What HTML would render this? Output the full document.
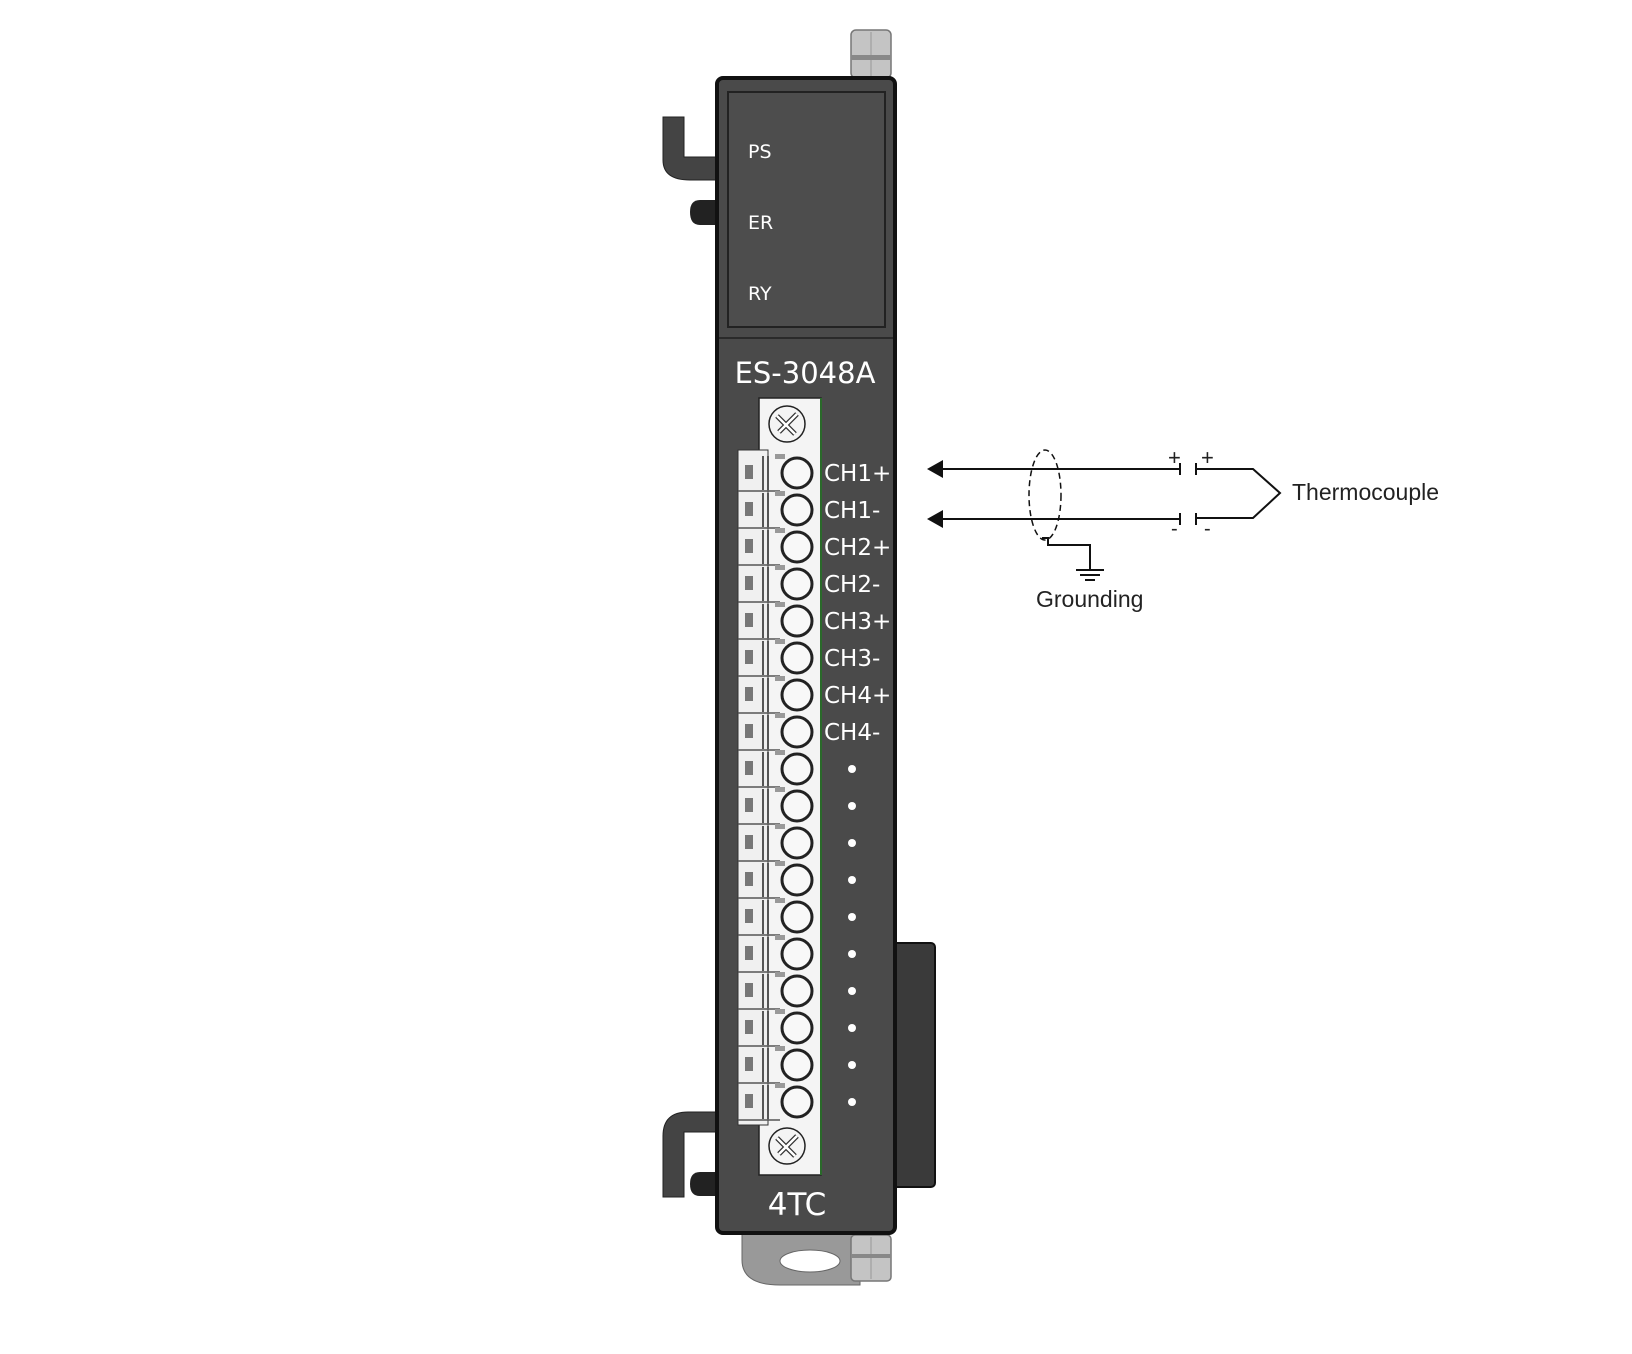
<!DOCTYPE html>
<html><head><meta charset="utf-8"><style>html,body{margin:0;padding:0;background:#fff}svg{display:block}</style></head>
<body>
<svg width="1632" height="1354" viewBox="0 0 1632 1354" xmlns="http://www.w3.org/2000/svg" xmlns:xlink="http://www.w3.org/1999/xlink">
<defs>
<g id="t">
<rect x="745" y="-8" width="8" height="14" fill="#777"/>
<line x1="763" y1="-17" x2="763" y2="17" stroke="#222" stroke-width="1.5"/>
<line x1="768" y1="-17" x2="768" y2="17" stroke="#222" stroke-width="1.5"/>
<line x1="738" y1="18" x2="780" y2="18" stroke="#555" stroke-width="1.5"/>
<rect x="775" y="-19" width="10" height="5" fill="#999"/>
<circle cx="797" cy="0" r="15" fill="#f8f8f8" stroke="#222" stroke-width="3"/>
</g>
</defs>
<rect x="851" y="30" width="40" height="48" rx="5" fill="#c4c4c4" stroke="#777" stroke-width="1.5"/>
<line x1="871" y1="32" x2="871" y2="76" stroke="#999"/>
<rect x="851" y="55" width="40" height="5" fill="#888"/>
<path d="M663 117 H684 V157 H717 V180 H690 Q663 180 663 160 Z" fill="#444" stroke="#222"/>
<path d="M717 200 H700 Q690 200 690 212 Q690 225 700 225 H717 Z" fill="#222"/>
<path d="M663 1197 V1136 Q663 1112 688 1112 H717 V1132 H684 V1197 Z" fill="#444" stroke="#222"/>
<path d="M717 1172 H700 Q690 1172 690 1184 Q690 1196 700 1196 H717 Z" fill="#222"/>
<path d="M742 1232 H860 V1285 H780 Q742 1285 742 1260 Z" fill="#999" stroke="#666"/>
<ellipse cx="810" cy="1261" rx="30" ry="11" fill="#fff" stroke="#666"/>
<rect x="851" y="1235" width="40" height="46" rx="4" fill="#c4c4c4" stroke="#777" stroke-width="1.5"/>
<line x1="871" y1="1237" x2="871" y2="1279" stroke="#999"/>
<rect x="851" y="1254" width="40" height="4" fill="#888"/>
<rect x="885" y="943" width="50" height="244" rx="4" fill="#3a3a3a" stroke="#111" stroke-width="2"/>
<rect x="717" y="78" width="178" height="1155" rx="6" fill="#4a4a4a" stroke="#111" stroke-width="4"/>
<rect x="728" y="92" width="157" height="235" fill="#4d4d4d" stroke="#222" stroke-width="2"/>
<line x1="719" y1="338" x2="893" y2="338" stroke="#2a2a2a" stroke-width="2"/>
<g font-family="'DejaVu Sans','Liberation Sans',sans-serif" fill="#fff">
<text x="748" y="158" font-size="19">PS</text>
<text x="748" y="229" font-size="19">ER</text>
<text x="748" y="300" font-size="19">RY</text>
<text x="805" y="383" font-size="29" text-anchor="middle">ES-3048A</text>
<text x="797" y="1215" font-size="31" text-anchor="middle">4TC</text>
</g>
<rect x="759" y="398" width="62" height="777" fill="#f4f4f4" stroke="#222" stroke-width="1.5"/>
<line x1="821" y1="398" x2="821" y2="1175" stroke="#2a6a2a" stroke-width="2"/>
<rect x="738" y="450" width="30" height="675" fill="#f0f0f0" stroke="#333" stroke-width="1"/>
<g stroke="#222" stroke-width="1.5" fill="none">
<circle cx="787" cy="424" r="18"/><path d="M777 416 L795 434 M797 414 L779 432" stroke-width="5" stroke="#333"/><path d="M777 416 L795 434 M797 414 L779 432" stroke-width="2.5" stroke="#fff"/>
<circle cx="787" cy="1146" r="18"/><path d="M777 1138 L795 1156 M797 1136 L779 1154" stroke-width="5" stroke="#333"/><path d="M777 1138 L795 1156 M797 1136 L779 1154" stroke-width="2.5" stroke="#fff"/>
</g>
<use xlink:href="#t" href="#t" y="473"/><use xlink:href="#t" href="#t" y="510"/><use xlink:href="#t" href="#t" y="547"/>
<use xlink:href="#t" href="#t" y="584"/><use xlink:href="#t" href="#t" y="621"/><use xlink:href="#t" href="#t" y="658"/>
<use xlink:href="#t" href="#t" y="695"/><use xlink:href="#t" href="#t" y="732"/><use xlink:href="#t" href="#t" y="769"/>
<use xlink:href="#t" href="#t" y="806"/><use xlink:href="#t" href="#t" y="843"/><use xlink:href="#t" href="#t" y="880"/>
<use xlink:href="#t" href="#t" y="917"/><use xlink:href="#t" href="#t" y="954"/><use xlink:href="#t" href="#t" y="991"/>
<use xlink:href="#t" href="#t" y="1028"/><use xlink:href="#t" href="#t" y="1065"/><use xlink:href="#t" href="#t" y="1102"/>
<g font-family="'DejaVu Sans','Liberation Sans',sans-serif" font-size="23" fill="#fff">
<text x="824" y="481">CH1+</text>
<text x="824" y="518">CH1-</text>
<text x="824" y="555">CH2+</text>
<text x="824" y="592">CH2-</text>
<text x="824" y="629">CH3+</text>
<text x="824" y="666">CH3-</text>
<text x="824" y="703">CH4+</text>
<text x="824" y="740">CH4-</text>
</g>
<g fill="#fff">
<circle cx="852" cy="769" r="4"/><circle cx="852" cy="806" r="4"/><circle cx="852" cy="843" r="4"/>
<circle cx="852" cy="880" r="4"/><circle cx="852" cy="917" r="4"/><circle cx="852" cy="954" r="4"/>
<circle cx="852" cy="991" r="4"/><circle cx="852" cy="1028" r="4"/><circle cx="852" cy="1065" r="4"/><circle cx="852" cy="1102" r="4"/>
</g>
<g stroke="#111" stroke-width="2" fill="none">
<line x1="940" y1="469" x2="1180" y2="469"/>
<line x1="940" y1="519" x2="1180" y2="519"/>
<line x1="1180" y1="463" x2="1180" y2="475"/><line x1="1180" y1="513" x2="1180" y2="525"/>
<line x1="1196" y1="463" x2="1196" y2="475"/><line x1="1196" y1="513" x2="1196" y2="525"/>
<polyline points="1196,469 1253,469 1280,493 1253,518 1196,518"/>
<ellipse cx="1045" cy="495" rx="16" ry="45" stroke-dasharray="6,4" stroke-width="1.5"/>
<polyline points="1042,538 1048,538 1048,545 1090,545 1090,570"/>
<line x1="1076" y1="570" x2="1104" y2="570"/>
<line x1="1080" y1="575" x2="1100" y2="575"/>
<line x1="1085" y1="580" x2="1095" y2="580"/>
</g>
<polygon points="927,469 943,460 943,478" fill="#111"/>
<polygon points="927,519 943,510 943,528" fill="#111"/>
<g font-family="'Liberation Sans',sans-serif" fill="#222">
<text x="1168" y="465" font-size="22">+</text>
<text x="1201" y="465" font-size="22">+</text>
<text x="1171" y="535" font-size="20">-</text>
<text x="1204" y="535" font-size="20">-</text>
<text x="1292" y="500" font-size="23">Thermocouple</text>
<text x="1036" y="607" font-size="23">Grounding</text>
</g>
</svg>
</body></html>
